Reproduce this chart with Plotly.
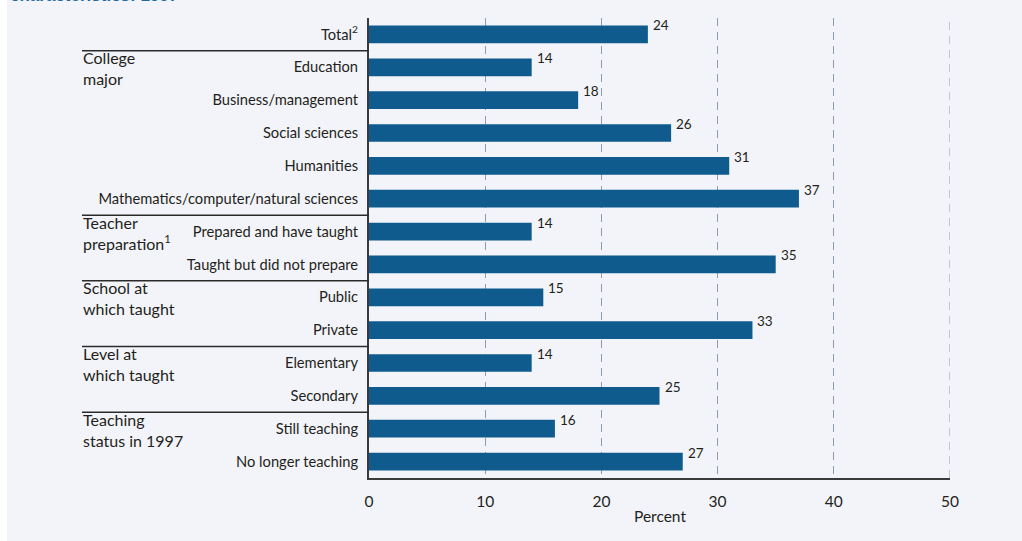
import plotly.graph_objects as go

# Percentage by characteristic
categories = [
    "Total<sup>2</sup>",
    "Education",
    "Business/management",
    "Social sciences",
    "Humanities",
    "Mathematics/computer/natural sciences",
    "Prepared and have taught",
    "Taught but did not prepare",
    "Public",
    "Private",
    "Elementary",
    "Secondary",
    "Still teaching",
    "No longer teaching",
]
values = [24, 14, 18, 26, 31, 37, 14, 35, 15, 33, 14, 25, 16, 27]

# Group headings and the first row of each group
groups = [
    ("College<br>major", "Education"),
    ("Teacher<br>preparation<sup>1</sup>", "Prepared and have taught"),
    ("School at<br>which taught", "Public"),
    ("Level at<br>which taught", "Elementary"),
    ("Teaching<br>status in 1997", "Still teaching"),
]
x_ticks = [0, 10, 20, 30, 40, 50]

W, H = 1022, 541
L, R, T, B = 369, 72, 18, 63
plot_w = W - L - R
plot_h = H - T - B


def px_to_paper_x(px):
    return (px - L) / plot_w


def px_to_paper_y(py):
    return 1 - (py - T) / plot_h


BAR = "#0f5b8e"
TEXT = "#231f20"
GRID = "#8e9bb0"
FONT = "Lato"

fig = go.Figure(
    go.Bar(
        x=values,
        y=categories,
        orientation="h",
        marker=dict(color=BAR, line=dict(width=0)),
        width=0.54,
        hoverinfo="skip",
    )
)

annotations = []
# value labels at the end of each bar
for cat, v in zip(categories, values):
    annotations.append(dict(
        x=v, y=cat, xref="x", yref="y", text=str(v), showarrow=False,
        xanchor="left", yanchor="middle", xshift=3, yshift=9,
        font=dict(family=FONT, size=13.5, color=TEXT),
    ))

# group headings on the left
for label, first in groups:
    annotations.append(dict(
        x=px_to_paper_x(81), y=categories.index(first), xref="paper", yref="y",
        text=label, showarrow=False, xanchor="left", yanchor="middle",
        align="left", yshift=-1,
        font=dict(family=FONT, size=16, color=TEXT),
    ))

# axis title
annotations.append(dict(
    x=25, y=px_to_paper_y(516), xref="x", yref="paper", text="Percent",
    showarrow=False, xanchor="center", yanchor="middle",
    font=dict(family=FONT, size=15.5, color=TEXT),
))

# heading text running off the top edge
annotations.append(dict(
    x=px_to_paper_x(8), y=px_to_paper_y(7), xref="paper", yref="paper",
    text="<b>characteristics: 1997</b>", showarrow=False,
    xanchor="left", yanchor="bottom",
    font=dict(family="Liberation Sans", size=17, color="#1f6aa5"),
))

shapes = [
    # white strip at the far left
    dict(type="rect", xref="paper", yref="paper",
         x0=px_to_paper_x(0), x1=px_to_paper_x(7), y0=px_to_paper_y(H), y1=px_to_paper_y(0),
         fillcolor="white", line=dict(width=0), layer="below"),
    # dashed guide at the last tick, on the range edge
    dict(type="line", xref="x", yref="paper",
         x0=x_ticks[-1], x1=x_ticks[-1], y0=0, y1=1,
         line=dict(color=GRID, width=1, dash="8px,6px"), layer="below"),
]
# separator lines between groups
for _, first in groups:
    yi = categories.index(first) - 0.5
    shapes.append(dict(
        type="line", xref="paper", yref="y",
        x0=px_to_paper_x(82), x1=0, y0=yi, y1=yi,
        line=dict(color="#2b2b2b", width=1.5),
    ))

fig.update_layout(
    width=W, height=H,
    margin=dict(l=L, r=R, t=T, b=B, autoexpand=False),
    paper_bgcolor="#f3f4f9",
    plot_bgcolor="#f3f4f9",
    showlegend=False,
    annotations=annotations,
    shapes=shapes,
    xaxis=dict(
        range=[0, 50], tickvals=x_ticks, ticktext=[str(t) for t in x_ticks],
        showgrid=True, gridcolor=GRID, gridwidth=1, griddash="8px,6px",
        zeroline=False, showline=True, linecolor="#3a3a3a", linewidth=1.5,
        ticks="", ticklabelstandoff=9,
        tickfont=dict(family=FONT, size=15.5, color=TEXT),
        fixedrange=True,
    ),
    yaxis=dict(
        type="category", categoryorder="array", categoryarray=categories,
        range=[13.5, -0.5], autorange=False,
        showgrid=False, zeroline=False, showline=True,
        linecolor="#3a3a3a", linewidth=2, ticks="",
        ticklabelstandoff=6,
        tickfont=dict(family=FONT, size=14.7, color=TEXT),
        fixedrange=True,
    ),
)

fig.write_html("out.html")
